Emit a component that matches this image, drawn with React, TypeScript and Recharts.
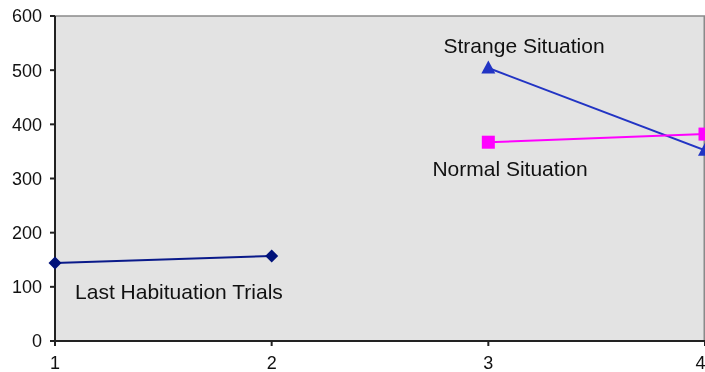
import { LineChart, Line, XAxis, YAxis, CartesianGrid, ReferenceLine, ReferenceDot } from 'recharts';

const xTicks = [1, 2, 3, 4];
const yTicks = [0, 100, 200, 300, 400, 500, 600];

const habituation = [
  { trial: 1, value: 144 },
  { trial: 2, value: 157 }
];
const strange = [
  { trial: 3, value: 504 },
  { trial: 4, value: 352 }
];
const normal = [
  { trial: 3, value: 367 },
  { trial: 4, value: 382 }
];

const notes = [
  { x: 3.165, y: 546, text: 'Strange Situation' },
  { x: 3.1, y: 319, text: 'Normal Situation' },
  { x: 1.572, y: 92, text: 'Last Habituation Trials' }
];

const FONT = '"Liberation Sans", Arial, sans-serif';

const Diamond = (props: any) => {
  const { cx, cy, fill } = props;
  if (cx == null || cy == null) return null;
  return <path d={`M${cx},${cy - 6.5} L${cx + 6.5},${cy} L${cx},${cy + 6.5} L${cx - 6.5},${cy} Z`} fill={fill} />;
};

const Square = (props: any) => {
  const { cx, cy, fill } = props;
  if (cx == null || cy == null) return null;
  return <rect x={cx - 6.5} y={cy - 6.5} width={13} height={13} fill={fill} />;
};

const Triangle = (props: any) => {
  const { cx, cy, fill } = props;
  if (cx == null || cy == null) return null;
  return <path d={`M${cx},${cy - 7.5} L${cx + 7},${cy + 5.5} L${cx - 7},${cy + 5.5} Z`} fill={fill} />;
};

const NoteLabel = (text: string) => (props: any) => {
  const { viewBox } = props;
  const cx = viewBox.x + (viewBox.width || 0) / 2;
  const cy = viewBox.y + (viewBox.height || 0) / 2;
  return (
    <text x={cx} y={cy} dy="0.35em" textAnchor="middle" fontFamily={FONT} fontSize={21} fill="#111">
      {text}
    </text>
  );
};

export default function App() {
  return (
    <div style={{ position: 'fixed', left: 0, top: 0 }}>
      <LineChart width={705} height={372} margin={{ top: 16, right: 0, bottom: 0, left: 8 }}>
        <CartesianGrid horizontal={false} vertical={false} fill="#e3e3e3" />
        <ReferenceLine y={600} stroke="#8a8a8a" strokeWidth={1.5} />
        <ReferenceLine x={4} stroke="#8a8a8a" strokeWidth={3} />
        <XAxis
          type="number"
          dataKey="trial"
          domain={[1, 4]}
          ticks={xTicks}
          height={31}
          tickSize={5}
          tickMargin={10}
          stroke="#222"
          strokeWidth={2}
          fontSize={18}
          fontFamily={FONT}
          tick={{ fill: '#111' }}
        />
        <YAxis
          type="number"
          domain={[0, 600]}
          ticks={yTicks}
          width={47}
          tickSize={5}
          tickMargin={8}
          stroke="#222"
          strokeWidth={2}
          fontSize={18}
          fontFamily={FONT}
          tick={{ fill: '#111' }}
        />
        <Line data={habituation} dataKey="value" stroke="#0a1a8a" strokeWidth={2} fill="#00127a" dot={<Diamond />} isAnimationActive={false} />
        <Line data={strange} dataKey="value" stroke="#2234c4" strokeWidth={2} fill="#2234c4" dot={<Triangle />} isAnimationActive={false} />
        <Line data={normal} dataKey="value" stroke="#ff00ff" strokeWidth={2} fill="#ff00ff" dot={<Square />} isAnimationActive={false} />
        {notes.map((n) => (
          <ReferenceDot
            key={n.text}
            x={n.x}
            y={n.y}
            r={0}
            stroke="none"
            fill="none"
            label={NoteLabel(n.text)}
          />
        ))}
      </LineChart>
    </div>
  );
}
